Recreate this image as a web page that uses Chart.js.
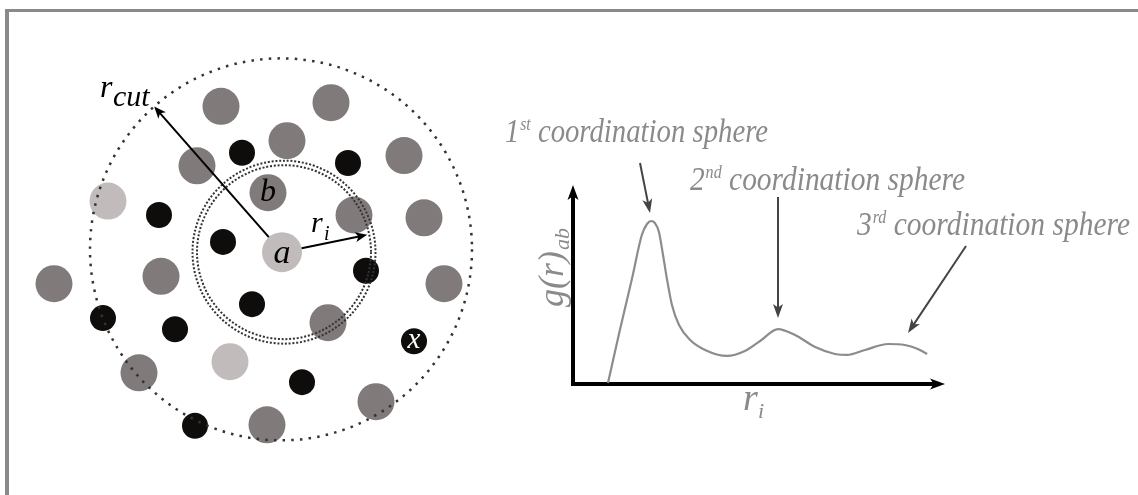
<!DOCTYPE html>
<html>
<head>
  <title>Radial distribution function</title>
  <script src="https://cdn.jsdelivr.net/npm/chart.js"></script>
  <style>
    body { margin: 0; overflow: hidden; background: #fff; }
    #frame { position: absolute; left: 5px; top: 9px; width: 1200px; height: 600px;
             border-top: 3px solid #8a8a8a; border-left: 4px solid #8a8a8a; }
    canvas { position: absolute; left: 0; top: 0; }
  </style>
</head>
<body>
<div id="frame"></div>
<canvas id="particles" width="1138" height="495"></canvas>
<canvas id="rdf" width="1138" height="495"></canvas>
<script>
  // particle positions, relative to the central particle a
  const centralX = [0];
  const centralY = [0];
  const greyX = [-6.1, 4.9, 0.5, -8.5, 12.2, -1.4, 7.2, 14.2, -12.1, -22.8, 16.2, 4.6, -14.3, 9.4, -1.5];
  const greyY = [15.7, 16.1, 12.0, 9.3, 10.4, 6.4, 4.0, 3.7, -2.6, -3.4, -3.4, -7.6, -13.0, -16.1, -18.6];
  const paleX = [-17.4, -5.2];
  const paleY = [5.5, -11.8];
  const blackX = [-4.0, 6.6, -12.3, -5.9, 8.4, -3.0, -17.9, -10.7, 2.0, -8.7, 13.2];
  const blackY = [10.7, 9.6, 4.0, 1.1, -2.0, -5.6, -7.1, -8.3, -14.0, -18.7, -9.6];

  // g(r) curve
  const rValues = [0.94, 1.26, 1.59, 1.85, 1.99, 2.10, 2.20, 2.31, 2.42, 2.53, 2.66, 2.85, 3.15, 3.55,
                   4.14, 4.62, 5.03, 5.51, 5.97, 6.51, 7.04, 7.37, 7.85, 8.47, 8.92, 9.27, 9.52];
  const gValues = [0.05, 2.71, 5.33, 7.49, 8.04, 8.19, 8.09, 7.64, 6.48, 5.23, 3.97, 2.96, 2.21, 1.71,
                   1.41, 1.66, 2.16, 2.76, 2.46, 1.86, 1.51, 1.46, 1.71, 2.01, 1.96, 1.76, 1.51];

  const serif = "'Liberation Serif', 'DejaVu Serif', serif";
  const it = size => 'italic ' + size + 'px ' + serif;

  function pts(xs, ys) { return xs.map((x, i) => ({ x: x, y: ys[i] })); }

  function arrow(ctx, x0, y0, x1, y1, color, lw, len, half) {
    const ang = Math.atan2(y1 - y0, x1 - x0);
    ctx.save();
    ctx.strokeStyle = color; ctx.fillStyle = color; ctx.lineWidth = lw;
    ctx.beginPath();
    ctx.moveTo(x0, y0);
    ctx.lineTo(x1 - Math.cos(ang) * len * 0.7, y1 - Math.sin(ang) * len * 0.7);
    ctx.stroke();
    ctx.translate(x1, y1); ctx.rotate(ang);
    ctx.beginPath();
    ctx.moveTo(0, 0);
    ctx.lineTo(-len, -half);
    ctx.lineTo(-len * 0.75, 0);
    ctx.lineTo(-len, half);
    ctx.closePath(); ctx.fill();
    ctx.restore();
  }

  function ring(ctx, cx, cy, rad, dash, lw, color) {
    ctx.save();
    ctx.setLineDash(dash); ctx.lineWidth = lw; ctx.strokeStyle = color;
    ctx.beginPath(); ctx.arc(cx, cy, rad, 0, 2 * Math.PI); ctx.stroke();
    ctx.restore();
  }

  // rings, arrows and letters over the particles
  const particleDecor = {
    id: 'particleDecor',
    afterDatasetsDraw(chart) {
      const ctx = chart.ctx, sx = chart.scales.x, sy = chart.scales.y;
      const unit = sx.getPixelForValue(1) - sx.getPixelForValue(0);
      const px = (x, y) => [sx.getPixelForValue(x), sy.getPixelForValue(y)];

      const outer = px(-0.1, 0.3);
      ring(ctx, outer[0], outer[1], 19.1 * unit, [2.5, 6.2], 2.5, '#333');
      const inner = px(0.2, 0);
      ring(ctx, inner[0], inner[1], 8.7 * unit, [2, 1.8], 2, '#333');
      ring(ctx, inner[0], inner[1], 9.15 * unit, [2, 1.8], 2, '#333');

      const a = chart.getDatasetMeta(0).data[0];
      // r_cut arrow to the outer ring
      const tc = 131.6 * Math.PI / 180;
      const cutTip = [outer[0] + Math.cos(tc) * 19.1 * unit, outer[1] - Math.sin(tc) * 19.1 * unit];
      let ang = Math.atan2(cutTip[1] - a.y, cutTip[0] - a.x);
      arrow(ctx, a.x + Math.cos(ang) * 20, a.y + Math.sin(ang) * 20, cutTip[0], cutTip[1], '#000', 2, 12, 5);
      // r_i arrow towards the inner ring
      const ti = 11.5 * Math.PI / 180;
      const iTip = [a.x + Math.cos(ti) * 8.7 * unit, a.y - Math.sin(ti) * 8.7 * unit];
      ang = Math.atan2(iTip[1] - a.y, iTip[0] - a.x);
      arrow(ctx, a.x + Math.cos(ang) * 20, a.y + Math.sin(ang) * 20, iTip[0], iTip[1], '#000', 2, 12, 5);

      ctx.save();
      ctx.fillStyle = '#000';
      ctx.textBaseline = 'alphabetic';
      ctx.font = it(32);
      ctx.fillText('r', 100, 97);
      ctx.font = it(30);
      ctx.fillText('cut', 113, 106);
      ctx.font = it(30);
      ctx.fillText('r', 311, 232);
      ctx.font = it(20);
      ctx.fillText('i', 324, 240);

      ctx.textAlign = 'center'; ctx.textBaseline = 'middle';
      ctx.font = it(34);
      ctx.fillText('a', a.x, a.y + 2);
      const b = chart.getDatasetMeta(1).data[5];
      ctx.font = it(32);
      ctx.fillText('b', b.x, b.y);
      const xp = chart.getDatasetMeta(3).data[10];
      ctx.fillStyle = '#fff';
      ctx.font = it(29);
      ctx.fillText('x', xp.x, xp.y - 1);
      ctx.restore();
    }
  };

  // axes arrows, axis labels and the coordination sphere notes
  const notes = [
    { num: '1', sup: 'st', x: 505, y: 142, w: 263, from: [640, 163], to: [650, 213] },
    { num: '2', sup: 'nd', x: 690, y: 190, w: 275, from: [778, 197], to: [778, 318] },
    { num: '3', sup: 'rd', x: 857, y: 235, w: 273, from: [966, 246], to: [908, 333] }
  ];

  const rdfDecor = {
    id: 'rdfDecor',
    beforeDatasetsDraw(chart) {
      const ctx = chart.ctx, ca = chart.chartArea;
      arrow(ctx, ca.left, ca.bottom + 2, ca.left, ca.top, '#000', 4, 15, 5.5);
      arrow(ctx, ca.left - 2, ca.bottom, ca.right, ca.bottom, '#000', 4, 15, 5.5);
    },
    afterDatasetsDraw(chart) {
      const ctx = chart.ctx, ca = chart.chartArea;
      ctx.save();
      ctx.fillStyle = '#8a8a8a';
      // g(r)_ab
      ctx.save();
      ctx.translate(ca.left - 10, 307);
      ctx.rotate(-Math.PI / 2);
      ctx.font = it(36);
      ctx.fillText('g(r)', 0, 0);
      const gw = ctx.measureText('g(r)').width;
      ctx.font = it(22);
      ctx.fillText('ab', gw + 1, 6);
      ctx.restore();
      // r_i
      ctx.font = it(38);
      ctx.fillText('r', 743, 410);
      ctx.font = it(22);
      ctx.fillText('i', 758, 418);

      notes.forEach(n => {
        const rest = ' coordination sphere';
        ctx.font = it(33); const w1 = ctx.measureText(n.num).width;
        const w3 = ctx.measureText(rest).width;
        ctx.font = it(18); const w2 = ctx.measureText(n.sup).width;
        const k = n.w / (w1 + w2 + w3 + 1);
        ctx.save();
        ctx.translate(n.x, n.y);
        ctx.scale(k, 1);
        ctx.font = it(33); ctx.fillText(n.num, 0, 0);
        ctx.font = it(18); ctx.fillText(n.sup, w1 + 1, -12);
        ctx.font = it(33); ctx.fillText(rest, w1 + w2 + 1, 0);
        ctx.restore();
        arrow(ctx, n.from[0], n.from[1], n.to[0], n.to[1], '#444', 2, 14, 5);
      });
      ctx.restore();
    }
  };

  const dot = (color, r) => ({ backgroundColor: color, borderWidth: 0, pointRadius: r, pointHoverRadius: r, clip: false });

  new Chart(document.getElementById('particles'), {
    type: 'scatter',
    data: {
      datasets: [
        Object.assign({ label: 'a', data: pts(centralX, centralY) }, dot('#c1bbbb', 20)),
        Object.assign({ label: 'grey', data: pts(greyX, greyY) }, dot('#807a7a', 18.5)),
        Object.assign({ label: 'pale', data: pts(paleX, paleY) }, dot('#c1bbbb', 18.5)),
        Object.assign({ label: 'black', data: pts(blackX, blackY) }, dot('#0f0d0c', 13))
      ]
    },
    options: {
      responsive: false,
      animation: false,
      layout: { padding: { left: 32, right: 606, top: 3, bottom: 2 } },
      scales: {
        x: { type: 'linear', min: -25, max: 25, display: false },
        y: { type: 'linear', min: -24, max: 25, display: false }
      },
      plugins: { legend: { display: false }, tooltip: { enabled: false } }
    },
    plugins: [particleDecor]
  });

  new Chart(document.getElementById('rdf'), {
    type: 'line',
    data: {
      datasets: [{
        label: 'g(r)ab',
        data: pts(rValues, gValues),
        borderColor: '#8c8c8c',
        borderWidth: 2.2,
        pointRadius: 0,
        cubicInterpolationMode: 'monotone',
        fill: false
      }]
    },
    options: {
      responsive: false,
      animation: false,
      layout: { padding: { left: 573, top: 185, right: 193, bottom: 111 } },
      scales: {
        x: { type: 'linear', min: 0, max: 10, display: false },
        y: { type: 'linear', min: 0, max: 10, display: false }
      },
      plugins: { legend: { display: false }, tooltip: { enabled: false } }
    },
    plugins: [rdfDecor]
  });
</script>
</body>
</html>
